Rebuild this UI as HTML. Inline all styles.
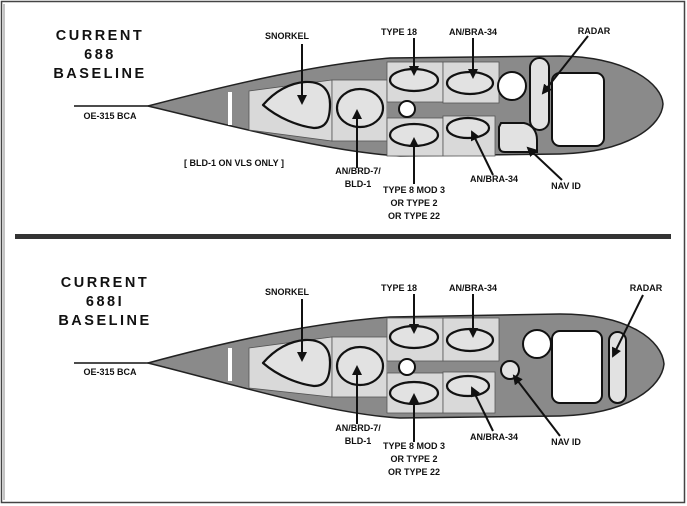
<!DOCTYPE html>
<html><head><style>
html,body{margin:0;padding:0;background:#fff}
svg{display:block}
text{font-family:"Liberation Sans",Arial,sans-serif;font-weight:bold;fill:#111}
.l{font-size:9px}
.t{font-size:14.5px;letter-spacing:2.5px}
.hull{fill:#8a8a8a;stroke:#222;stroke-width:1.5}
.box{fill:#d9d9d9;stroke:#555;stroke-width:0.8}
.blob{fill:#e2e2e2;stroke:#111;stroke-width:2.2;stroke-linejoin:round}
.wh{fill:#fff;stroke:#111;stroke-width:2}
.ar{stroke:#111;stroke-width:2;fill:none;marker-end:url(#ah)}
</style></head><body>
<svg width="687" height="506" viewBox="0 0 687 506" xmlns="http://www.w3.org/2000/svg">
<defs>
<marker id="ah" markerWidth="5" markerHeight="5" refX="4" refY="2.5" orient="auto" markerUnits="strokeWidth"><path d="M0,0 L5,2.5 L0,5 Z" fill="#111"/></marker>
</defs>
<rect x="1.5" y="1.5" width="683" height="501" fill="none" stroke="#444" stroke-width="1.5"/>
<line x1="4" y1="4" x2="4" y2="500" stroke="#888" stroke-width="1"/>
<rect x="15" y="234" width="656" height="5" fill="#333"/>

<!-- TOP -->
<text class="t" x="100" y="40" text-anchor="middle">CURRENT</text>
<text class="t" x="100" y="59" text-anchor="middle">688</text>
<text class="t" x="100" y="78" text-anchor="middle">BASELINE</text>
<line x1="74" y1="106" x2="150" y2="106" stroke="#111" stroke-width="1.5"/>
<text class="l" x="110" y="119" text-anchor="middle">OE-315 BCA</text>
<path class="hull" d="M148,106 C240,82 320,64 390,58 L560,56 C630,57 662,85 663,104 C662,125 630,152 560,154 L400,156 C330,152 240,128 148,106 Z"/>
<rect x="228" y="92" width="4" height="33" fill="#fff"/>
<path class="box" d="M249,91 L332,80 L332,141 L249,130 Z"/>
<rect class="box" x="332" y="80" width="55" height="61"/>
<path d="M387,98 L407,103 L443,102 L443,118 L407,115 L387,122 Z" fill="#8a8a8a"/>
<rect class="box" x="387" y="62" width="56" height="40"/>
<rect class="box" x="387" y="118" width="56" height="38"/>
<rect class="box" x="443" y="62" width="56" height="41"/>
<rect class="box" x="443" y="116" width="52" height="40"/>
<path class="blob" d="M263,105 C275,91 290,83 305,82 C324,81 330,92 330,104 C330,120 326,128 314,128 C298,126 278,118 263,105 Z"/>
<ellipse class="blob" cx="360" cy="108" rx="23" ry="19"/>
<ellipse class="blob" cx="414" cy="80" rx="24" ry="11"/>
<ellipse class="blob" cx="414" cy="135" rx="24" ry="11"/>
<ellipse class="blob" cx="470" cy="83" rx="23" ry="11"/>
<ellipse class="blob" cx="468" cy="128" rx="21" ry="10"/>
<circle class="wh" cx="407" cy="109" r="8"/>
<circle class="wh" cx="512" cy="86" r="14"/>
<rect x="530" y="58" width="19" height="72" rx="9.5" fill="#e2e2e2" stroke="#111" stroke-width="2"/>
<path d="M501,123 L524,123 C533,125 537,132 537,140 L537,152 L505,152 C501,152 499,150 499,146 L499,127 Z" fill="#e2e2e2" stroke="#111" stroke-width="2"/>
<rect class="wh" x="552" y="73" width="52" height="73" rx="8"/>
<line class="ar" x1="302" y1="44" x2="302" y2="103"/>
<line class="ar" x1="414" y1="38" x2="414" y2="74"/>
<line class="ar" x1="473" y1="38" x2="473" y2="77"/>
<line class="ar" x1="588" y1="36" x2="543" y2="93"/>
<line class="ar" x1="357" y1="168" x2="357" y2="111"/>
<line class="ar" x1="414" y1="184" x2="414" y2="139"/>
<line class="ar" x1="493" y1="175" x2="472" y2="132"/>
<line class="ar" x1="562" y1="180" x2="528" y2="148"/>
<text class="l" x="287" y="39" text-anchor="middle">SNORKEL</text>
<text class="l" x="399" y="35" text-anchor="middle">TYPE 18</text>
<text class="l" x="473" y="35" text-anchor="middle">AN/BRA-34</text>
<text class="l" x="594" y="34" text-anchor="middle">RADAR</text>
<text class="l" x="234" y="166" text-anchor="middle">[ BLD-1 ON VLS ONLY ]</text>
<text class="l" x="358" y="174" text-anchor="middle">AN/BRD-7/</text>
<text class="l" x="358" y="187" text-anchor="middle">BLD-1</text>
<text class="l" x="414" y="193" text-anchor="middle">TYPE 8 MOD 3</text>
<text class="l" x="414" y="206" text-anchor="middle">OR TYPE 2</text>
<text class="l" x="414" y="219" text-anchor="middle">OR TYPE 22</text>
<text class="l" x="494" y="182" text-anchor="middle">AN/BRA-34</text>
<text class="l" x="566" y="189" text-anchor="middle">NAV ID</text>

<!-- BOTTOM -->
<text class="t" x="105" y="287" text-anchor="middle">CURRENT</text>
<text class="t" x="105" y="306" text-anchor="middle">688I</text>
<text class="t" x="105" y="325" text-anchor="middle">BASELINE</text>
<line x1="74" y1="363" x2="150" y2="363" stroke="#111" stroke-width="1.5"/>
<text class="l" x="110" y="375" text-anchor="middle">OE-315 BCA</text>
<g transform="translate(0,256)">
<path class="hull" d="M148,107 C240,82 320,66 390,61 L560,58 C630,58 662,85 664,108 C662,130 630,158 560,160 L400,162 C330,158 240,130 148,107 Z"/>
<rect x="228" y="92" width="4" height="33" fill="#fff"/>
<path class="box" d="M249,92 L332,81 L332,141 L249,132 Z"/>
<rect class="box" x="332" y="81" width="55" height="60"/>
<path d="M387,98 L407,103 L500,101 L500,116 L407,115 L387,122 Z" fill="#8a8a8a"/>
<rect class="box" x="387" y="62" width="56" height="43"/>
<rect class="box" x="387" y="117" width="56" height="40"/>
<rect class="box" x="443" y="62" width="56" height="43"/>
<rect class="box" x="443" y="116" width="52" height="41"/>
<path class="blob" d="M263,107 C275,93 290,85 305,84 C324,83 330,94 330,106 C330,122 326,130 314,130 C298,128 278,120 263,107 Z"/>
<ellipse class="blob" cx="360" cy="110" rx="23" ry="19"/>
<ellipse class="blob" cx="414" cy="81" rx="24" ry="11"/>
<ellipse class="blob" cx="414" cy="137" rx="24" ry="11"/>
<ellipse class="blob" cx="470" cy="84" rx="23" ry="11"/>
<ellipse class="blob" cx="468" cy="130" rx="21" ry="10"/>
<circle class="wh" cx="407" cy="111" r="8"/>
<circle cx="510" cy="114" r="9" fill="#e2e2e2" stroke="#111" stroke-width="2"/>
<circle class="wh" cx="537" cy="88" r="14"/>
<rect class="wh" x="552" y="75" width="50" height="72" rx="8"/>
<rect x="609" y="76" width="17" height="71" rx="8.5" fill="#e2e2e2" stroke="#111" stroke-width="2"/>
<line class="ar" x1="302" y1="43" x2="302" y2="104"/>
<line class="ar" x1="414" y1="38" x2="414" y2="76"/>
<line class="ar" x1="473" y1="38" x2="473" y2="80"/>
<line class="ar" x1="643" y1="39" x2="613" y2="100"/>
<line class="ar" x1="357" y1="168" x2="357" y2="111"/>
<line class="ar" x1="414" y1="186" x2="414" y2="139"/>
<line class="ar" x1="493" y1="175" x2="472" y2="132"/>
<line class="ar" x1="560" y1="180" x2="514" y2="120"/>
</g>
<text class="l" x="287" y="295" text-anchor="middle">SNORKEL</text>
<text class="l" x="399" y="291" text-anchor="middle">TYPE 18</text>
<text class="l" x="473" y="291" text-anchor="middle">AN/BRA-34</text>
<text class="l" x="646" y="291" text-anchor="middle">RADAR</text>
<text class="l" x="358" y="431" text-anchor="middle">AN/BRD-7/</text>
<text class="l" x="358" y="444" text-anchor="middle">BLD-1</text>
<text class="l" x="414" y="449" text-anchor="middle">TYPE 8 MOD 3</text>
<text class="l" x="414" y="462" text-anchor="middle">OR TYPE 2</text>
<text class="l" x="414" y="475" text-anchor="middle">OR TYPE 22</text>
<text class="l" x="494" y="440" text-anchor="middle">AN/BRA-34</text>
<text class="l" x="566" y="445" text-anchor="middle">NAV ID</text>
</svg>
</body></html>
